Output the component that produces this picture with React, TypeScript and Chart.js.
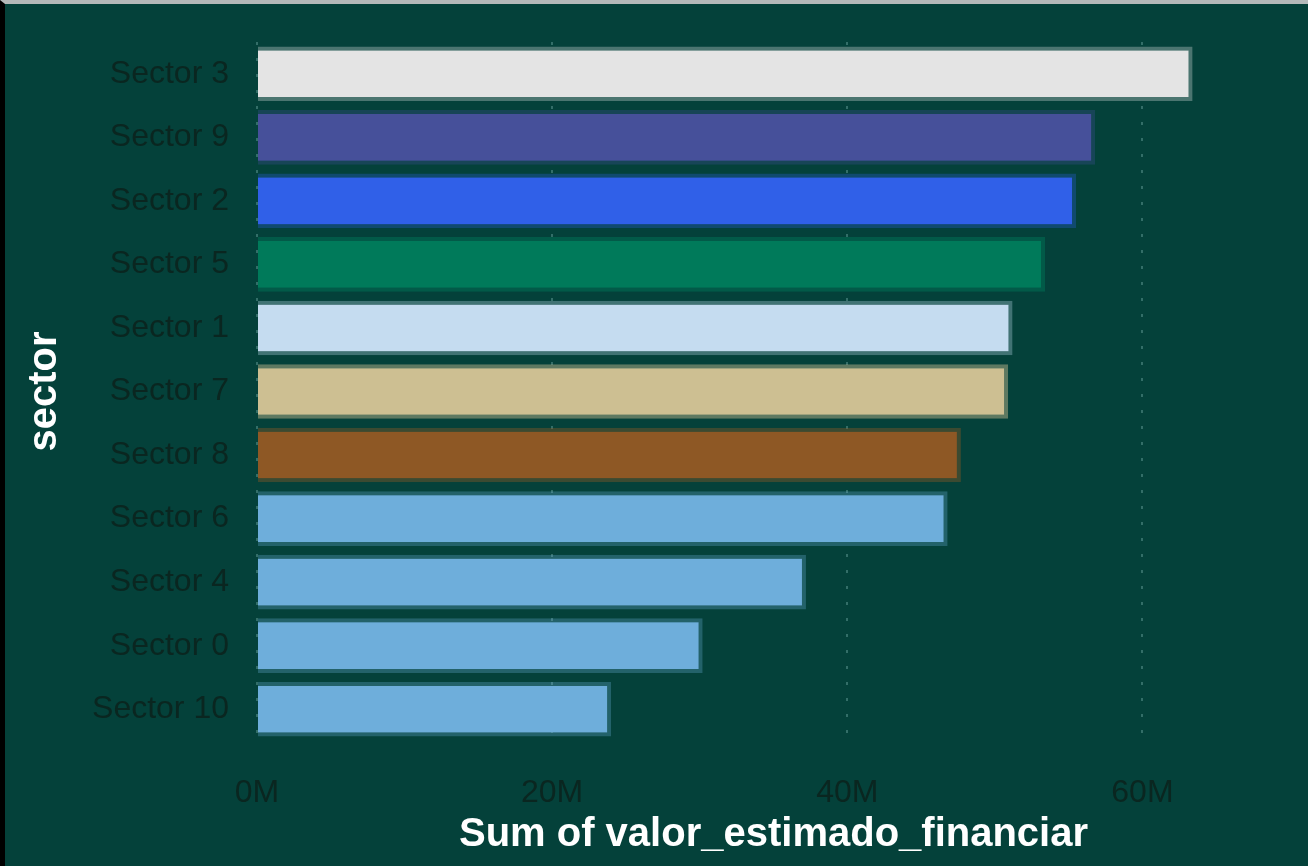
import React, { useEffect, useRef } from "react";
import { Chart, registerables } from "chart.js";

Chart.register(...registerables);

const categories = [
  "Sector 3",
  "Sector 9",
  "Sector 2",
  "Sector 5",
  "Sector 1",
  "Sector 7",
  "Sector 8",
  "Sector 6",
  "Sector 4",
  "Sector 0",
  "Sector 10",
];

const values = [63.4, 56.8, 55.5, 53.4, 51.2, 50.9, 47.7, 46.8, 37.2, 30.2, 24.0];

const barColors = [
  "#e4e4e4",
  "#46509a",
  "#3060e8",
  "#007a5a",
  "#c5dcf0",
  "#cdbf92",
  "#8e5825",
  "#6eaedb",
  "#6eaedb",
  "#6eaedb",
  "#6eaedb",
];

const barBorders = [
  "rgba(228,228,228,0.32)",
  "rgba(70,80,154,0.3)",
  "rgba(48,96,232,0.3)",
  "rgba(0,122,90,0.45)",
  "rgba(197,220,240,0.32)",
  "rgba(205,191,146,0.45)",
  "rgba(142,88,37,0.4)",
  "rgba(110,174,219,0.3)",
  "rgba(110,174,219,0.3)",
  "rgba(110,174,219,0.3)",
  "rgba(110,174,219,0.3)",
];

const xTickValues = [0, 20, 40, 60];

export default function App() {
  const canvasRef = useRef<HTMLCanvasElement | null>(null);

  useEffect(() => {
    document.body.style.margin = "0";
    const canvas = canvasRef.current;
    if (!canvas) return;
    const chart = new Chart(canvas, {
      type: "bar",
      data: {
        labels: categories,
        datasets: [
          {
            data: values,
            backgroundColor: barColors,
            borderColor: barBorders,
            borderWidth: 4,
            borderSkipped: "start",
            categoryPercentage: 1,
            barPercentage: 0.86,
          },
        ],
      },
      options: {
        indexAxis: "y",
        animation: false,
        responsive: false,
        maintainAspectRatio: false,
        layout: { padding: { top: 38, right: 18, left: 0, bottom: 0 } },
        plugins: {
          legend: { display: false },
          tooltip: { enabled: false },
        },
        scales: {
          x: {
            type: "linear",
            min: 0,
            max: 70,
            afterBuildTicks: (scale: any) => {
              scale.ticks = xTickValues.map((v) => ({ value: v }));
            },
            afterFit: (scale: any) => {
              scale.height = 125;
              scale.paddingLeft = 0;
              scale.paddingRight = 0;
            },
            grid: {
              display: true,
              color: "#336e68",
              lineWidth: 2,
              drawTicks: false,
            },
            border: { display: false, dash: [3, 13] },
            ticks: {
              padding: 33,
              color: "#0a2620",
              font: { family: "'Liberation Sans', Arial, sans-serif", size: 32 },
              callback: (v: any) => `${v}M`,
            },
            title: {
              display: true,
              text: "Sum of valor_estimado_financiar",
              color: "#ffffff",
              font: { family: "'Liberation Sans', Arial, sans-serif", size: 40, weight: "bold" },
              padding: { top: 0, bottom: 7 },
            },
          },
          y: {
            afterFit: (scale: any) => {
              scale.width = 252;
              scale.paddingTop = 0;
              scale.paddingBottom = 0;
            },
            grid: { display: false, drawTicks: false },
            border: { display: false },
            ticks: {
              padding: 28,
              color: "#0a2620",
              font: { family: "'Liberation Sans', Arial, sans-serif", size: 32 },
            },
            title: {
              display: true,
              text: "sector",
              color: "#ffffff",
              font: { family: "'Liberation Sans', Arial, sans-serif", size: 40, weight: "bold" },
              padding: { top: 16, bottom: 0 },
            },
          },
        },
      },
    });
    return () => chart.destroy();
  }, []);

  return (
    <div
      style={{
        position: "fixed",
        left: 0,
        top: 0,
        width: 1308,
        height: 866,
        boxSizing: "border-box",
        background: "#04413a",
        borderTop: "4px solid #b4b9b9",
        borderLeft: "5px solid #000000",
        overflow: "hidden",
      }}
    >
      <canvas ref={canvasRef} width={1303} height={862} style={{ display: "block" }} />
    </div>
  );
}
